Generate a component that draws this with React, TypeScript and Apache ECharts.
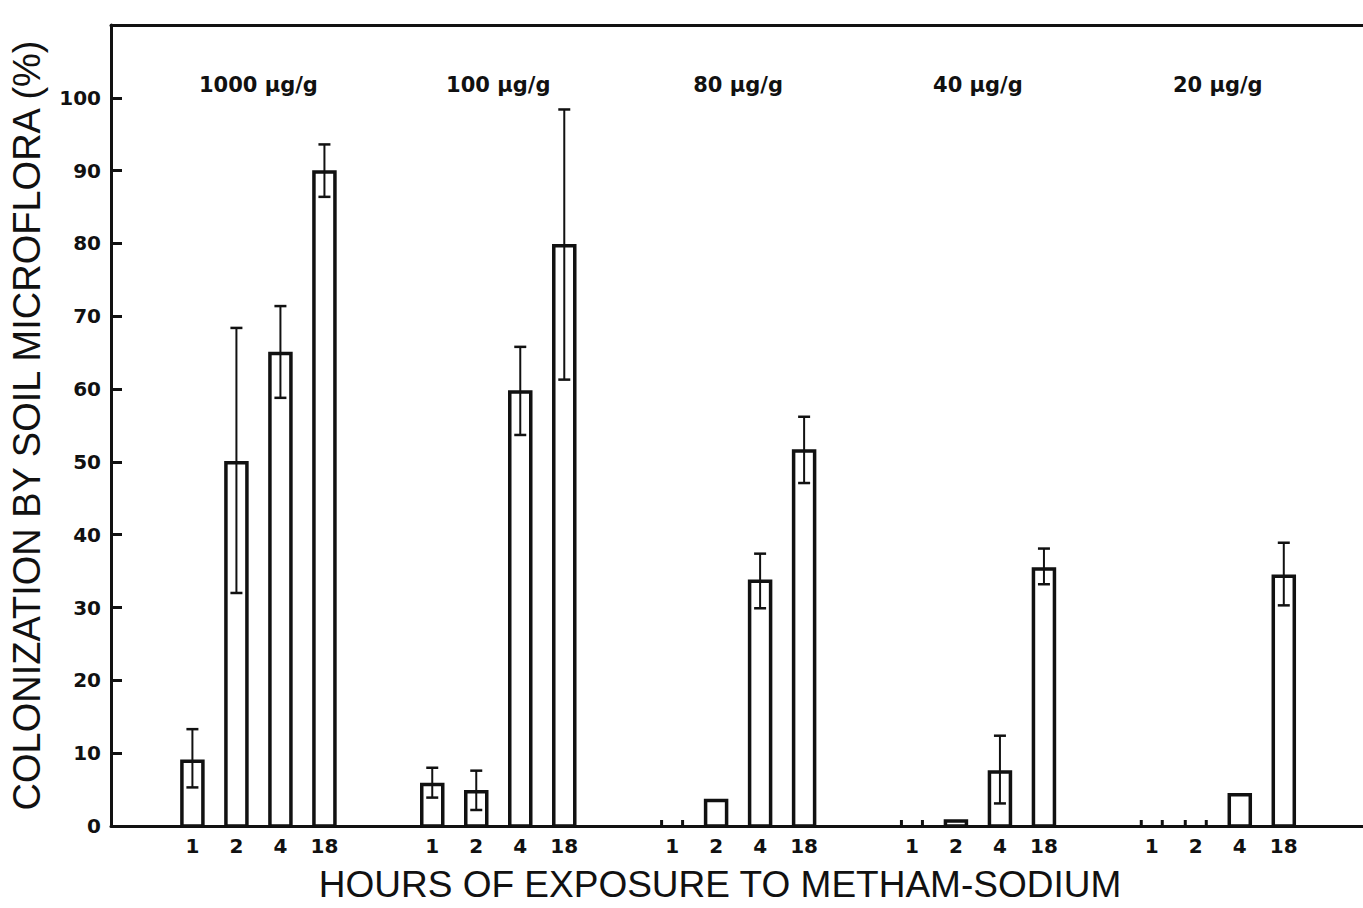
import React, { useEffect, useRef } from "react";
import * as echarts from "echarts";

// ---- data ----
const groupLabels = ["1000 µg/g", "100 µg/g", "80 µg/g", "40 µg/g", "20 µg/g"];
const hourLabels = ["1", "2", "4", "18"];

const mean1000 = [8.9, 49.9, 64.9, 89.8];
const low1000 = [5.3, 32.0, 58.8, 86.4];
const high1000 = [13.3, 68.4, 71.4, 93.6];

const mean100 = [5.7, 4.7, 59.6, 79.7];
const low100 = [3.9, 2.2, 53.7, 61.3];
const high100 = [8.0, 7.6, 65.8, 98.4];

const mean80 = [0, 3.5, 33.6, 51.5];
const low80 = [null, null, 29.9, 47.1];
const high80 = [null, null, 37.4, 56.2];

const mean40 = [0, 0.7, 7.4, 35.3];
const low40 = [null, null, 3.1, 33.2];
const high40 = [null, null, 12.4, 38.1];

const mean20 = [0, 0, 4.3, 34.3];
const low20 = [null, null, null, 30.3];
const high20 = [null, null, null, 38.9];

const meansByGroup = [mean1000, mean100, mean80, mean40, mean20];
const lowsByGroup = [low1000, low100, low80, low40, low20];
const highsByGroup = [high1000, high100, high80, high40, high20];

// ---- layout ----
const GROUP_STEP = 5.45;
const X_MIN = -1.85;
const X_MAX = 26.6;
const Y_MAX = 110;
const GROUP_LABEL_LEVEL = 101.8;
const INK = "#111";
const NUM_FONT = '"DejaVu Sans", sans-serif';
const TITLE_FONT = '"Liberation Sans", Arial, sans-serif';

export default function App() {
  const ref = useRef<HTMLDivElement>(null);

  useEffect(() => {
    if (!ref.current) return;
    const chart = echarts.init(ref.current, null, { renderer: "svg" });

    const barData: any[] = [];
    meansByGroup.forEach((means, g) => {
      means.forEach((m, i) => {
        const lo = lowsByGroup[g][i];
        const hi = highsByGroup[g][i];
        barData.push([g * GROUP_STEP + i, m, lo == null ? -1 : lo, hi == null ? -1 : hi, i]);
      });
    });

    const groupData = groupLabels.map((_, g) => [g * GROUP_STEP + 1.5, GROUP_LABEL_LEVEL, g]);

    const renderBar = (params: any, api: any) => {
      const x = api.value(0);
      const mean = api.value(1);
      const lo = api.value(2);
      const hi = api.value(3);
      const h = api.value(4);
      const base = api.coord([x, 0]);
      const top = api.coord([x, mean]);
      const w = 21;
      const children: any[] = [];
      if (mean > 0) {
        children.push({
          type: "rect",
          shape: { x: base[0] - w / 2, y: top[1], width: w, height: base[1] - top[1] },
          style: { fill: "#fff", stroke: INK, lineWidth: 3.5 },
        });
      } else {
        [-w / 2, w / 2].forEach((dx) => {
          children.push({
            type: "line",
            shape: { x1: base[0] + dx, y1: base[1], x2: base[0] + dx, y2: base[1] - 6 },
            style: { stroke: INK, lineWidth: 3 },
          });
        });
      }
      if (lo >= 0 && hi >= 0) {
        const l = api.coord([x, lo]);
        const u = api.coord([x, hi]);
        children.push({
          type: "line",
          shape: { x1: base[0], y1: l[1], x2: base[0], y2: u[1] },
          style: { stroke: INK, lineWidth: 2 },
        });
        [l[1], u[1]].forEach((yy) => {
          children.push({
            type: "line",
            shape: { x1: base[0] - 6, y1: yy, x2: base[0] + 6, y2: yy },
            style: { stroke: INK, lineWidth: 2.5 },
          });
        });
      }
      children.push({
        type: "text",
        x: base[0],
        y: base[1] + 10,
        style: {
          text: hourLabels[h],
          fill: INK,
          font: `bold 20px ${NUM_FONT}`,
          align: "center",
          verticalAlign: "top",
        },
      });
      return { type: "group", children };
    };

    const renderGroupLabel = (params: any, api: any) => {
      const p = api.coord([api.value(0), api.value(1)]);
      return {
        type: "text",
        x: p[0],
        y: p[1],
        style: {
          text: groupLabels[api.value(2)],
          fill: INK,
          font: `bold 21px ${NUM_FONT}`,
          align: "center",
          verticalAlign: "middle",
        },
      };
    };

    chart.setOption({
      animation: false,
      backgroundColor: "#fff",
      grid: { left: 111, right: 0, top: 25, bottom: 79 },
      xAxis: [
        {
          type: "value",
          min: X_MIN,
          max: X_MAX,
          position: "bottom",
          axisLine: { show: true, onZero: false, lineStyle: { color: INK, width: 3 } },
          axisTick: { show: false },
          axisLabel: { show: false },
          splitLine: { show: false },
          name: "HOURS OF EXPOSURE TO METHAM-SODIUM",
          nameLocation: "middle",
          nameGap: 40,
          nameTextStyle: {
            fontFamily: TITLE_FONT,
            fontSize: 37,
            color: INK,
            padding: [0, 34, 0, 0],
          },
        },
        {
          type: "value",
          min: X_MIN,
          max: X_MAX,
          position: "top",
          axisLine: { show: true, onZero: false, lineStyle: { color: INK, width: 3 } },
          axisTick: { show: false },
          axisLabel: { show: false },
          splitLine: { show: false },
        },
      ],
      yAxis: {
        type: "value",
        min: 0,
        max: Y_MAX,
        interval: 10,
        position: "left",
        axisLine: { show: true, onZero: false, lineStyle: { color: INK, width: 3 } },
        axisTick: { show: true, inside: true, length: 11, lineStyle: { color: INK, width: 3 } },
        axisLabel: {
          color: INK,
          fontFamily: NUM_FONT,
          fontWeight: "bold",
          fontSize: 20,
          margin: 10,
          formatter: (v: number) => (v > 100 ? "" : String(v)),
        },
        splitLine: { show: false },
        name: "COLONIZATION BY SOIL MICROFLORA (%)",
        nameLocation: "middle",
        nameRotate: 90,
        nameGap: 65,
        nameTextStyle: { fontFamily: TITLE_FONT, fontSize: 38, color: INK },
      },
      series: [
        {
          type: "custom",
          renderItem: renderBar,
          data: barData,
          encode: { x: 0, y: 1 },
          clip: false,
          silent: true,
        },
        {
          type: "custom",
          renderItem: renderGroupLabel,
          data: groupData,
          encode: { x: 0, y: 1 },
          clip: false,
          silent: true,
        },
      ],
    });

    return () => chart.dispose();
  }, []);

  return (
    <div
      ref={ref}
      style={{ position: "fixed", left: 0, top: 0, width: 1363, height: 908, background: "#fff" }}
    />
  );
}
